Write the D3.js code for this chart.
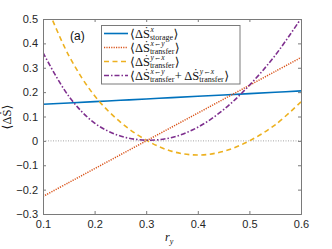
<!DOCTYPE html>
<html><head><meta charset="utf-8">
<script src="https://cdn.jsdelivr.net/npm/d3@7"></script>
<style>body{margin:0;background:#fff}svg{display:block}</style>
</head><body>
<svg id="c" width="332" height="249"></svg>
<script>
const ry = [0.10,0.15,0.20,0.25,0.30,0.35,0.40,0.45,0.50,0.55,0.60];
const storage = [0.150,0.1555,0.161,0.1665,0.172,0.1775,0.183,0.1885,0.194,0.1995,0.205];
const transferXY = [-0.228,-0.171,-0.114,-0.057,0.000,0.057,0.114,0.171,0.228,0.285,0.342];
const transferYX = [0.590,0.350,0.185,0.077,0.003,-0.043,-0.058,-0.043,0.000,0.066,0.160];
const transferSum = [0.362,0.183,0.073,0.020,0.003,0.014,0.056,0.128,0.228,0.351,0.502];
const xTicks = [0.1,0.2,0.3,0.4,0.5,0.6];
const yTicks = [-0.3,-0.2,-0.1,0,0.1,0.2,0.3,0.4,0.5];

const svg = d3.select('#c');
const L=43,R=301,T=19,B=214;
const x = d3.scaleLinear().domain([0.1,0.6]).range([L,R]);
const y = d3.scaleLinear().domain([-0.3,0.5]).range([B,T]);
const axisCol = '#7a7a7a', labCol='#262626';

svg.append('defs').append('clipPath').attr('id','clp').append('rect')
  .attr('x',L).attr('y',T).attr('width',R-L).attr('height',B-T);

// zero line
svg.append('line').attr('x1',L).attr('x2',R).attr('y1',y(0)).attr('y2',y(0))
  .attr('stroke','#666').attr('stroke-width',0.6).attr('stroke-dasharray','1,1.5');

const g = svg.append('g').attr('clip-path','url(#clp)');
const line = vals => d3.line().x((d,i)=>x(ry[i])).y(d=>y(d)).curve(d3.curveCatmullRom)(vals);
const series = [
  {v:storage, c:'#0072BD', dash:null, w:1.6},
  {v:transferXY, c:'#D95319', dash:'1.2,1.2', w:1.5},
  {v:transferYX, c:'#EDB120', dash:'5,3.5', w:1.6},
  {v:transferSum, c:'#7E2F8E', dash:'5,2,1.5,2', w:1.6}
];
series.forEach(s=>{
  g.append('path').attr('d',line(s.v)).attr('fill','none').attr('stroke',s.c)
   .attr('stroke-width',s.w).attr('stroke-dasharray',s.dash);
});

// axes
const ax = svg.append('g');
const tl=3;
ax.append('g').attr('transform',`translate(0,${B})`)
  .call(d3.axisBottom(x).tickValues(xTicks).tickSize(-tl).tickPadding(6).tickFormat(d3.format('.1f')));
ax.append('g').attr('transform',`translate(0,${T})`)
  .call(d3.axisTop(x).tickValues(xTicks).tickSize(-tl).tickFormat(''));
ax.append('g').attr('transform',`translate(${L},0)`)
  .call(d3.axisLeft(y).tickValues(yTicks).tickSize(-tl).tickPadding(5).tickFormat(d=>d===0?'0':d3.format('.1f')(d)));
ax.append('g').attr('transform',`translate(${R},0)`)
  .call(d3.axisRight(y).tickValues(yTicks).tickSize(-tl).tickFormat(''));
ax.selectAll('.domain').attr('stroke',axisCol).attr('stroke-width',1);
ax.selectAll('.tick line').attr('stroke',axisCol);
ax.selectAll('.tick text').attr('fill',labCol).attr('font-family','Liberation Sans, Arial, sans-serif').attr('font-size',11);

// (a)
svg.append('text').attr('x',70).attr('y',40).attr('font-family','Liberation Sans, Arial, sans-serif')
  .attr('font-size',12).attr('fill','#111').text('(a)');

// axis labels
const serif='Liberation Serif, DejaVu Serif, serif';
const ylab = svg.append('text').attr('transform','translate(11,117) rotate(-90)')
  .attr('text-anchor','middle').attr('font-family',serif).attr('font-size',12.5).attr('fill','#111');
ylab.append('tspan').text('⟨ΔṠ⟩');
const xl = svg.append('text').attr('x',165).attr('y',241).attr('font-family',serif).attr('font-size',12).attr('fill','#111');
xl.append('tspan').attr('font-style','italic').text('r');
xl.append('tspan').attr('font-style','italic').attr('font-size',8).attr('dy',3).text('y');

// legend
const lg = svg.append('g');
lg.append('rect').attr('x',101.5).attr('y',25.5).attr('width',138.5).attr('height',58.5)
  .attr('fill','#fff').attr('stroke',axisCol).attr('stroke-width',1);
const entries = [
  [['⟨ΔṠ'],['x','storage'],['⟩']],
  [['⟨ΔṠ'],['x←y','transfer'],['⟩']],
  [['⟨ΔṠ'],['y←x','transfer'],['⟩']],
  [['⟨ΔṠ'],['x←y','transfer'],[' + ΔṠ'],['y←x','transfer'],['⟩']]
];
const rowY=[33.5,47.5,61.5,75.5];
entries.forEach((e,i)=>{
  const s=series[i];
  lg.append('line').attr('x1',104).attr('x2',128).attr('y1',rowY[i]).attr('y2',rowY[i])
    .attr('stroke',s.c).attr('stroke-width',s.w).attr('stroke-dasharray',s.dash);
  let cx=130; const base=rowY[i]+4;
  e.forEach(p=>{
    if(p.length===1){
      const t=lg.append('text').attr('x',cx).attr('y',base).attr('font-family',serif)
        .attr('font-size',12.5).attr('fill','#111').text(p[0]);
      cx+=t.node().getComputedTextLength();
    } else {
      const a=lg.append('text').attr('x',cx+0.5).attr('y',base-6).attr('font-family',serif)
        .attr('font-size',7.5).attr('font-style','italic').attr('fill','#111').text(p[0]);
      const b=lg.append('text').attr('x',cx).attr('y',base+2.5).attr('font-family',serif)
        .attr('font-size',8).attr('fill','#111').text(p[1]);
      cx+=Math.max(a.node().getComputedTextLength()+0.5,b.node().getComputedTextLength())+0.5;
    }
  });
});
</script>
</body></html>
